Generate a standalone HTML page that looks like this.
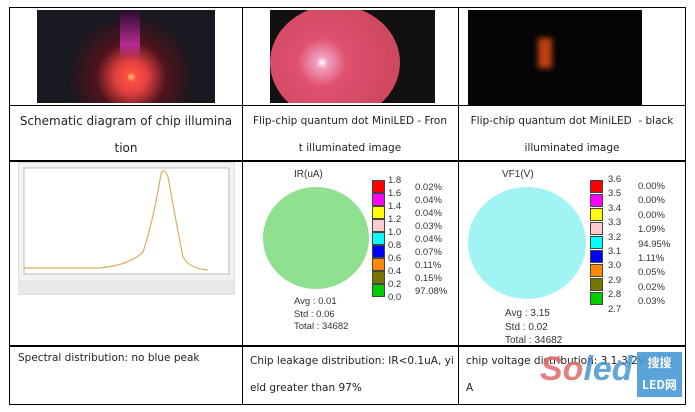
<!DOCTYPE html>
<html><head><meta charset="utf-8"><style>
body{margin:0;width:695px;height:412px;background:#fff;position:relative;overflow:hidden;font-family:"DejaVu Sans","Liberation Sans",sans-serif;}
.a{position:absolute}
.l{position:absolute;background:#000}
.t{position:absolute;font-size:11px;color:#222;text-align:center;line-height:27px}
.sw{position:absolute;width:11px;height:11px;border:1px solid #444}
.s{font-family:"Liberation Sans",sans-serif;font-size:9.5px;color:#333;position:absolute}
</style></head><body>
<!-- grid -->
<div class="l" style="left:9px;top:7px;width:677px;height:1px"></div>
<div class="l" style="left:9px;top:105px;width:677px;height:1px"></div>
<div class="l" style="left:9px;top:160px;width:677px;height:2px"></div>
<div class="l" style="left:9px;top:345px;width:677px;height:2px"></div>
<div class="l" style="left:9px;top:404px;width:677px;height:1px"></div>
<div class="l" style="left:9px;top:7px;width:1px;height:398px"></div>
<div class="l" style="left:242px;top:7px;width:1px;height:398px"></div>
<div class="l" style="left:458px;top:7px;width:1px;height:398px"></div>
<div class="l" style="left:685px;top:7px;width:1px;height:398px"></div>

<!-- photos -->
<div class="a" style="left:37px;top:10px;width:178px;height:93px;background:radial-gradient(circle at 53% 72%,#ffd070 0,#ff5040 4%,#e04040 14%,rgba(120,20,30,.6) 30%,#181820 55%),#141418"></div>
<div class="a" style="left:120px;top:10px;width:20px;height:50px;background:linear-gradient(#300830,#d030b0 70%,transparent);opacity:.8"></div>
<div class="a" style="left:270px;top:10px;width:165px;height:93px;background:#111;overflow:hidden">
 <div class="a" style="left:0;top:-5px;width:130px;height:115px;border-radius:50%;background:radial-gradient(circle at 40% 50%,#fff 0,#f0a0c0 6%,#e05070 25%,#d04860 70%)"></div>
</div>
<div class="a" style="left:468px;top:10px;width:174px;height:95px;background:#050505"><div class="a" style="left:70px;top:28px;width:14px;height:30px;background:#c04010;filter:blur(3px)"></div></div>

<div class="t" style="left:12px;top:108px;width:228px;font-size:12px">Schematic diagram of chip illumina<br>tion</div>
<div class="t" style="left:244px;top:108px;width:212px;font-size:10.5px">Flip-chip quantum dot MiniLED - Fron<br>t illuminated image</div>
<div class="t" style="left:460px;top:108px;width:224px;font-size:10.5px">Flip-chip quantum dot MiniLED &nbsp;- black<br>illuminated image</div>

<!-- spectrum -->
<div class="a" style="left:18px;top:162px;width:215px;height:131px;background:#f2f2f2;border:1px solid #ddd"></div>
<svg class="a" style="left:18px;top:162px" width="216" height="132">
<rect x="6" y="6" width="205" height="106" fill="#fff" stroke="#bbb"/>
<path d="M6 106 L80 106 Q110 104 125 90 Q135 60 143 12 Q146 4 150 15 Q158 60 165 95 Q172 107 190 108" stroke="#d4b060" fill="none" stroke-width="1.2"/>
<rect x="0" y="118" width="216" height="14" fill="#e8e8e8"/>
</svg>

<!-- IR map -->
<div class="s" style="left:294px;top:169px;font-size:10px">IR(uA)</div>
<div class="a" style="left:263px;top:187px;width:106px;height:102px;border-radius:50%;background:#8fe08f"></div>
<div class="sw" style="left:372px;top:180px;background:#f00"></div>
<div class="sw" style="left:372px;top:193px;background:#f0f"></div>
<div class="sw" style="left:372px;top:206px;background:#ff0"></div>
<div class="sw" style="left:372px;top:219px;background:#fcc"></div>
<div class="sw" style="left:372px;top:232px;background:#0ff"></div>
<div class="sw" style="left:372px;top:245px;background:#00f"></div>
<div class="sw" style="left:372px;top:258px;background:#f80"></div>
<div class="sw" style="left:372px;top:271px;background:#770"></div>
<div class="sw" style="left:372px;top:284px;background:#0c0"></div>
<div class="s" style="left:388px;top:174px;line-height:13px">1.8<br>1.6<br>1.4<br>1.2<br>1.0<br>0.8<br>0.6<br>0.4<br>0.2<br>0.0</div>
<div class="s" style="left:415px;top:181px;line-height:13px">0.02%<br>0.04%<br>0.04%<br>0.03%<br>0.04%<br>0.07%<br>0.11%<br>0.15%<br>97.08%</div>
<div class="s" style="left:294px;top:296px;line-height:12.5px">Avg : 0.01<br>Std : 0.06<br>Total : 34682</div>

<!-- VF map -->
<div class="s" style="left:502px;top:169px;font-size:10px">VF1(V)</div>
<div class="a" style="left:468px;top:187px;width:118px;height:112px;border-radius:50%;background:#a0f4f4"></div>
<div class="sw" style="left:590px;top:180px;background:#f00"></div>
<div class="sw" style="left:590px;top:194px;background:#f0f"></div>
<div class="sw" style="left:590px;top:208px;background:#ff0"></div>
<div class="sw" style="left:590px;top:222px;background:#fcc"></div>
<div class="sw" style="left:590px;top:236px;background:#0ff"></div>
<div class="sw" style="left:590px;top:250px;background:#00f"></div>
<div class="sw" style="left:590px;top:264px;background:#f80"></div>
<div class="sw" style="left:590px;top:278px;background:#770"></div>
<div class="sw" style="left:590px;top:292px;background:#0c0"></div>
<div class="s" style="left:608px;top:173px;line-height:14.4px">3.6<br>3.5<br>3.4<br>3.3<br>3.2<br>3.1<br>3.0<br>2.9<br>2.8<br>2.7</div>
<div class="s" style="left:638px;top:180px;line-height:14.4px">0.00%<br>0.00%<br>0.00%<br>1.09%<br>94.95%<br>1.11%<br>0.05%<br>0.02%<br>0.03%</div>
<div class="s" style="left:505px;top:307px;line-height:13.5px;font-size:10px">Avg : 3.15<br>Std : 0.02<br>Total : 34682</div>

<div class="t" style="left:18px;top:348px;font-size:10.5px;text-align:left;line-height:20px">Spectral distribution: no blue peak</div>
<div class="t" style="left:250px;top:348px;font-size:10.5px;text-align:left;line-height:27px">Chip leakage distribution: IR&lt;0.1uA, yi<br>eld greater than 97%</div>
<div class="t" style="left:466px;top:348px;font-size:10.5px;text-align:left;line-height:27px">chip voltage distribution: 3.1-3.2V@5m<br>A</div>
<div class="a" style="left:540px;top:350px;font:bold italic 34px 'Liberation Sans',sans-serif;color:#e06060;opacity:.8">So<span style="color:#3a8fd0">led</span></div>
<div class="a" style="left:637px;top:352px;width:45px;height:45px;background:#4a9ad8;opacity:.9;color:#fff;font:bold 12px 'Noto Sans CJK SC',sans-serif;text-align:center;line-height:22px">搜搜<br>LED网</div>
</body></html>
